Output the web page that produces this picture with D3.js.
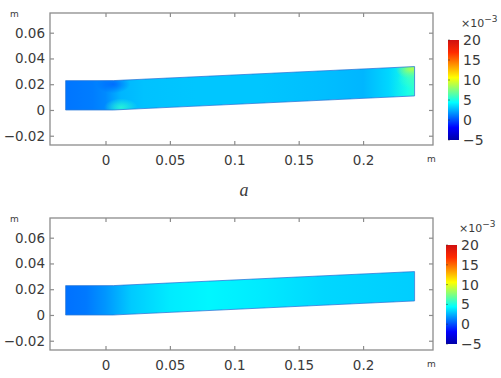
<!DOCTYPE html>
<html>
<head>
<meta charset="utf-8">
<script src="https://cdn.jsdelivr.net/npm/d3@7"></script>
<style>
  body { margin: 0; background: #fff; }
  svg { display: block; }
  text { font-family: "DejaVu Sans", sans-serif; fill: #3a3a3a; }
</style>
</head>
<body>
<div id="chart"></div>
<script>
// axis ticks (m) and colour bar ticks (x1e-3)
const xTicks = [0, 0.05, 0.1, 0.15, 0.2];
const yTicks = [-0.02, 0, 0.02, 0.04, 0.06];
const cbTicks = [-5, 0, 5, 10, 15, 20];

// beam outline (m), same in both panels
const beamX = [-0.031, 0.006, 0.240, 0.240, 0.006, -0.031];
const beamY = [0, 0, 0.0109, 0.0337, 0.0228, 0.0228];

// field along the beam, panel a
const stationsA = [-0.031, -0.01, 0.0, 0.012, 0.03, 0.07, 0.12, 0.17, 0.2, 0.22, 0.235, 0.24];
const valuesA   = [1.0, 1.2, 1.5, 2.6, 2.9, 3.0, 3.0, 2.8, 2.6, 3.4, 5.0, 5.6];
// local spots, panel a: x, y (m), value
const spotXA = [0.006, 0.012, 0.238, 0.239];
const spotYA = [0.02, 0.002, 0.0315, 0.024];
const spotVA = [0.5, 5.5, 9.5, 6];

// field along the beam, panel b
const stationsB = [-0.031, -0.015, 0.0, 0.02, 0.05, 0.08, 0.12, 0.17, 0.24];
const valuesB   = [0.9, 1.1, 1.8, 3.1, 3.9, 4.2, 3.9, 3.4, 3.2];

const W = 501, H = 378;
const svg = d3.select("#chart").append("svg").attr("width", W).attr("height", H);

// jet-like colour map
const color = d3.scaleLinear()
  .domain([-5, -1.9, 4.4, 10.6, 16.9, 20])
  .range(["#0000a8", "#0000ff", "#00ffff", "#ffff00", "#ff2a00", "#d01010"])
  .interpolate(d3.interpolateRgb);

const defs = svg.append("defs");

function panel(id, top, stations, values, sx, sy, sv, cb) {
  const frame = {left: 50, right: 433, top: top, bottom: top + 132};
  const x = d3.scaleLinear().domain([-0.0431, 0.2543]).range([frame.left, frame.right]);
  const y = d3.scaleLinear().domain([-0.0272, 0.0753]).range([frame.bottom, frame.top]);
  const g = svg.append("g");

  // gradient along the beam
  const grad = defs.append("linearGradient").attr("id", "grad" + id)
    .attr("gradientUnits", "userSpaceOnUse")
    .attr("x1", x(stations[0])).attr("x2", x(stations[stations.length - 1]))
    .attr("y1", 0).attr("y2", 0);
  grad.selectAll("stop").data(stations).join("stop")
    .attr("offset", (d) => (d - stations[0]) / (stations[stations.length - 1] - stations[0]))
    .attr("stop-color", (d, i) => color(values[i]));

  const pts = beamX.map((d, i) => [x(d), y(beamY[i])]);
  const line = d3.line();
  defs.append("clipPath").attr("id", "clip" + id).append("path").attr("d", line(pts) + "Z");

  const body = g.append("g").attr("clip-path", `url(#clip${id})`);
  body.append("path").attr("d", line(pts) + "Z").attr("fill", `url(#grad${id})`);

  sx.forEach((d, i) => {
    const rg = defs.append("radialGradient").attr("id", `spot${id}${i}`);
    rg.append("stop").attr("offset", 0).attr("stop-color", color(sv[i])).attr("stop-opacity", 0.8);
    rg.append("stop").attr("offset", 0.35).attr("stop-color", color(sv[i])).attr("stop-opacity", 0.55);
    rg.append("stop").attr("offset", 1).attr("stop-color", color(sv[i])).attr("stop-opacity", 0);
    body.append("ellipse")
      .attr("cx", x(d)).attr("cy", y(sy[i]))
      .attr("rx", i >= 2 ? 16 : 17).attr("ry", i >= 2 ? 10 : 9)
      .attr("fill", `url(#spot${id}${i})`);
  });

  g.append("path").attr("d", line(pts) + "Z")
    .attr("fill", "none").attr("stroke", "#2a78d8").attr("stroke-width", 0.8);

  // frame with inward ticks
  g.append("rect")
    .attr("x", frame.left).attr("y", frame.top)
    .attr("width", frame.right - frame.left).attr("height", frame.bottom - frame.top)
    .attr("fill", "none").attr("stroke", "#8c8c8c").attr("stroke-width", 1.3);

  const fmt = d3.format("~g");
  const axes = [
    [d3.axisBottom(x).tickValues(xTicks).tickSize(-4).tickFormat(fmt), `translate(0,${frame.bottom})`, "b"],
    [d3.axisTop(x).tickValues(xTicks).tickSize(-4).tickFormat(""), `translate(0,${frame.top})`, "t"],
    [d3.axisLeft(y).tickValues(yTicks).tickSize(-4).tickFormat(fmt), `translate(${frame.left},0)`, "l"],
    [d3.axisRight(y).tickValues(yTicks).tickSize(-4).tickFormat(""), `translate(${frame.right},0)`, "r"]
  ];
  axes.forEach(([ax, tr, side]) => {
    const a = g.append("g").attr("transform", tr).call(ax);
    a.select(".domain").remove();
    a.selectAll(".tick line").attr("stroke", "#8c8c8c").attr("stroke-width", 1.2);
    a.selectAll(".tick text").style("font-size", "13.5px").attr("fill", "#3a3a3a");
    if (side === "b") a.selectAll(".tick text").attr("y", 10);
    if (side === "l") a.selectAll(".tick text").attr("x", -5);
  });

  g.append("text").attr("x", 10).attr("y", frame.top + 4).style("font-size", "9px").attr("fill", "#777").text("m");
  g.append("text").attr("x", frame.right - 6).attr("y", frame.bottom + 17).style("font-size", "9px").attr("fill", "#777").text("m");

  // colour bar
  const cy = d3.scaleLinear().domain([-5, 20]).range([cb.bottom, cb.top]);
  const cg = defs.append("linearGradient").attr("id", "cbg" + id)
    .attr("x1", 0).attr("x2", 0).attr("y1", 1).attr("y2", 0);
  cg.selectAll("stop").data(color.domain()).join("stop")
    .attr("offset", (d) => (d + 5) / 25)
    .attr("stop-color", (d) => color(d));
  g.append("rect").attr("x", cb.left).attr("y", cb.top)
    .attr("width", 11).attr("height", cb.bottom - cb.top)
    .attr("fill", `url(#cbg${id})`);
  const ca = g.append("g").attr("transform", `translate(${cb.left + 11},0)`)
    .call(d3.axisRight(cy).tickValues(cbTicks).tickSize(0).tickFormat((d) => d < 0 ? "\u2212" + Math.abs(d) : d));
  ca.select(".domain").remove();
  ca.selectAll(".tick text").attr("x", 4).style("font-size", "14px").attr("fill", "#3a3a3a");
  g.append("g").selectAll("line").data(cbTicks).join("line")
    .attr("x1", cb.left).attr("x2", cb.left + 2)
    .attr("y1", (d) => cy(d)).attr("y2", (d) => cy(d))
    .attr("stroke", "#333").attr("stroke-opacity", 0.5);
  const ex = g.append("text").attr("x", cb.left + 13).attr("y", cb.top - 13).style("font-size", "11px");
  ex.append("tspan").text("\u00d710");
  ex.append("tspan").attr("dy", -5).style("font-size", "9px").text("\u22123");
}

panel("a", 13, stationsA, valuesA, spotXA, spotYA, spotVA, {left: 448, top: 40, bottom: 140});
panel("b", 218, stationsB, valuesB, [], [], [], {left: 446, top: 245, bottom: 344});

svg.append("text").attr("x", 244).attr("y", 196).attr("text-anchor", "middle")
  .style("font-family", "'Liberation Serif', serif").style("font-style", "italic")
  .style("font-size", "18px").attr("fill", "#111").text("a");
</script>
</body>
</html>
